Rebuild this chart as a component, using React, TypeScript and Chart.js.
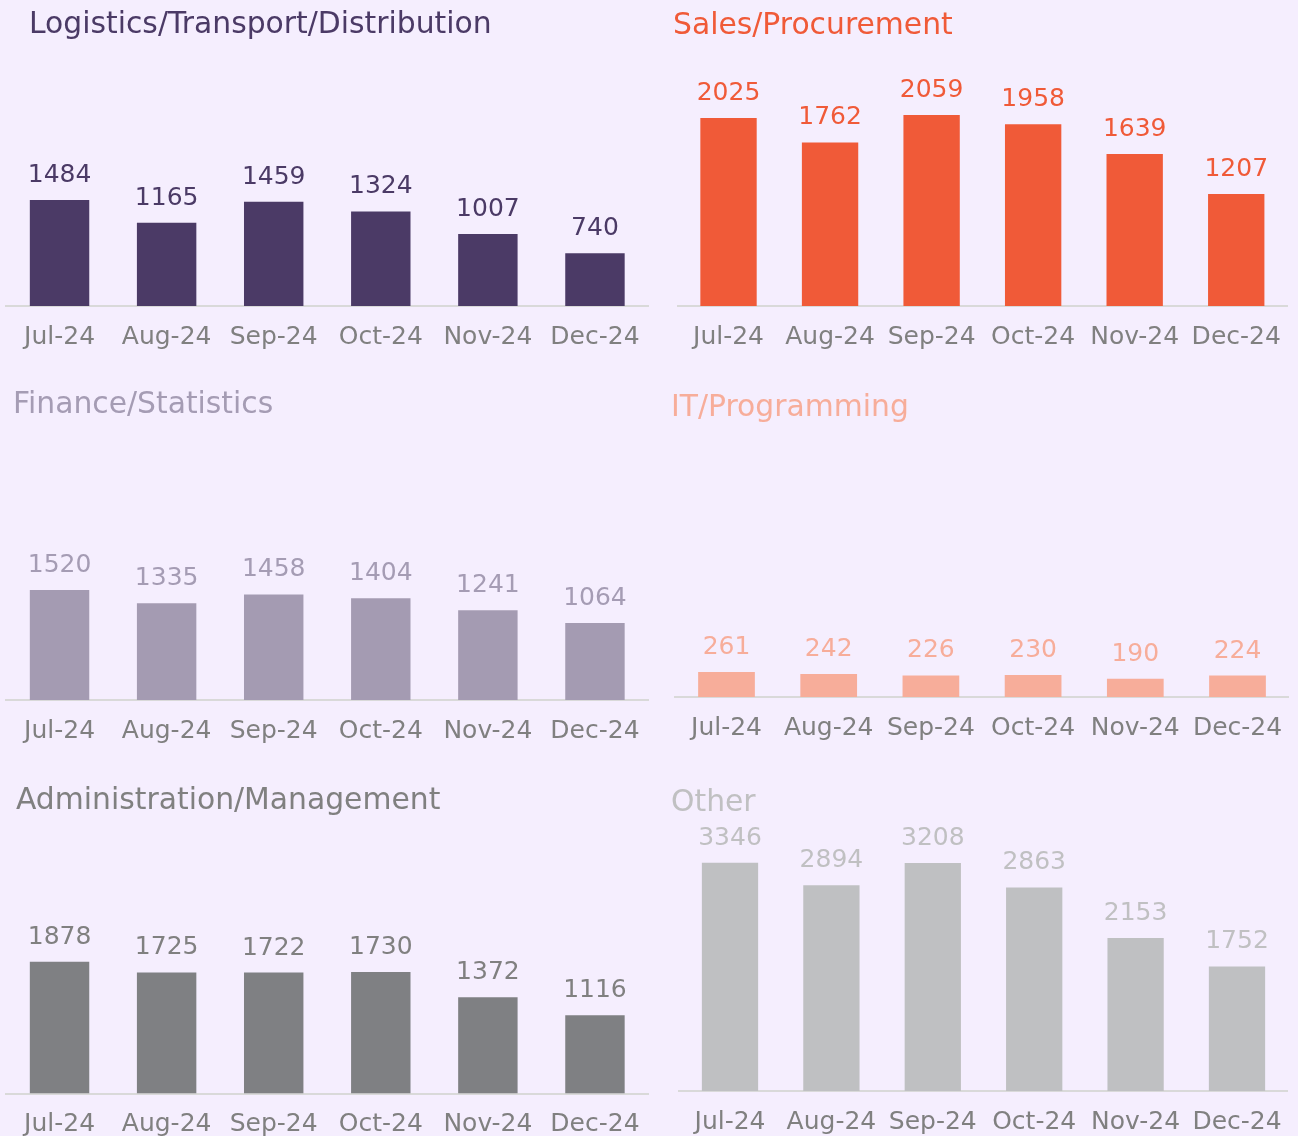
import React, { useEffect, useRef } from "react";
import { Chart, registerables } from "chart.js";

Chart.register(...registerables);

// ---- data ----
const months = ["Jul-24", "Aug-24", "Sep-24", "Oct-24", "Nov-24", "Dec-24"];
const panelTitles = [
  "Logistics/Transport/Distribution",
  "Sales/Procurement",
  "Finance/Statistics",
  "IT/Programming",
  "Administration/Management",
  "Other",
];
const logistics = [1484, 1165, 1459, 1324, 1007, 740];
const sales = [2025, 1762, 2059, 1958, 1639, 1207];
const finance = [1520, 1335, 1458, 1404, 1241, 1064];
const itProgramming = [261, 242, 226, 230, 190, 224];
const administration = [1878, 1725, 1722, 1730, 1372, 1116];
const other = [3346, 2894, 3208, 2863, 2153, 1752];
const panelSeries = [logistics, sales, finance, itProgramming, administration, other];
const axisMax = [3500, 2700, 3500, 2600, 3500, 3210];

// ---- styles ----
const barColors = ["#4B3A66", "#F05A38", "#A49BB2", "#F7AD9A", "#7F8083", "#BFC0C2"];
const textColors = ["#4B3A66", "#F05A38", "#A59CB4", "#F7AD9A", "#808080", "#C0C0C2"];
const BG = "#F5EEFE";
const FONT = "'DejaVu Sans', sans-serif";

// panel layout (pixels)
const layouts = [
  { left: 0, top: 0, w: 660, h: 380, padL: 6, padR: 11.5, padT: 56, axisH: 74, tx: 29, ty: 32.5 },
  { left: 660, top: 0, w: 638, h: 380, padL: 17.75, padR: 11, padT: 55.4, axisH: 74, tx: 13, ty: 33.5 },
  { left: 0, top: 380, w: 660, h: 390, padL: 6, padR: 11.5, padT: 66.6, axisH: 70, tx: 13, ty: 32.7 },
  { left: 660, top: 380, w: 638, h: 390, padL: 15.4, padR: 9.4, padT: 68.7, axisH: 73, tx: 11, ty: 36 },
  { left: 0, top: 770, w: 660, h: 366, padL: 6, padR: 11.5, padT: 77.8, axisH: 42.5, tx: 16, ty: 38.5 },
  { left: 660, top: 770, w: 638, h: 366, padL: 19.3, padR: 10.3, padT: 92.8, axisH: 45, tx: 11, ty: 41 },
];

function Panel({ idx }: { idx: number }) {
  const ref = useRef<HTMLCanvasElement>(null);
  const L = layouts[idx];
  useEffect(() => {
    const canvas = ref.current!;
    const labelPlugin = {
      id: "panelText" + idx,
      afterDatasetsDraw(chart: any) {
        const ctx = chart.ctx;
        const area = chart.chartArea;
        const meta = chart.getDatasetMeta(0);
        const data = chart.data.datasets[0].data as number[];
        ctx.save();
        ctx.font = `25px ${FONT}`;
        ctx.fillStyle = textColors[idx];
        ctx.textAlign = "center";
        ctx.textBaseline = "alphabetic";
        meta.data.forEach((el: any, i: number) => {
          const yTop = Math.max(el.y, area.top);
          ctx.fillText(String(data[i]), el.x, yTop - 18);
        });
        ctx.restore();
      },
      afterDraw(chart: any) {
        const ctx = chart.ctx;
        ctx.save();
        ctx.font = `29.8px ${FONT}`;
        ctx.fillStyle = textColors[idx];
        ctx.textAlign = "left";
        ctx.textBaseline = "alphabetic";
        ctx.fillText(panelTitles[idx], L.tx, L.ty);
        ctx.restore();
      },
    };
    const chart = new Chart(canvas, {
      type: "bar",
      data: {
        labels: months,
        datasets: [
          {
            data: panelSeries[idx],
            backgroundColor: barColors[idx],
            borderWidth: 0,
            barPercentage: 0.555,
            categoryPercentage: 1,
          },
        ],
      },
      options: {
        responsive: false,
        animation: false,
        layout: { padding: { left: L.padL, right: L.padR, top: L.padT, bottom: 0 } },
        plugins: { legend: { display: false }, tooltip: { enabled: false }, title: { display: false } },
        scales: {
          x: {
            grid: { display: false },
            border: { display: true, color: "#D9D9D9", width: 2 },
            ticks: {
              color: "#808080",
              padding: 8,
              maxRotation: 0,
              autoSkip: false,
              font: { family: FONT, size: 25, lineHeight: 1.2 },
            },
            afterFit: (scale: any) => {
              scale.height = L.axisH;
            },
          },
          y: { display: false, min: 0, max: axisMax[idx] },
        },
      },
      plugins: [labelPlugin],
    });
    return () => chart.destroy();
  }, [idx]);
  return (
    <canvas
      ref={ref}
      width={L.w}
      height={L.h}
      style={{ position: "absolute", left: L.left, top: L.top, width: L.w, height: L.h, display: "block" }}
    />
  );
}

export default function App() {
  return (
    <div
      style={{
        position: "absolute",
        left: 0,
        top: 0,
        width: 1298,
        height: 1136,
        background: BG,
        overflow: "hidden",
      }}
    >
      {panelTitles.map((_, i) => (
        <Panel key={i} idx={i} />
      ))}
    </div>
  );
}
